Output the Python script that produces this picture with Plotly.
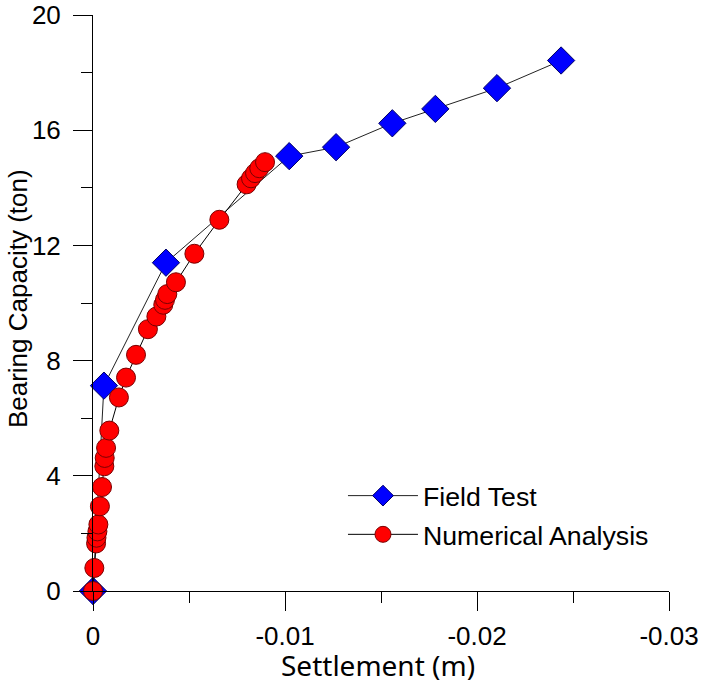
import plotly.graph_objects as go

# Field test (blue diamonds)
field_settlement = [0.0, -0.00057, -0.0038, -0.01022, -0.01266, -0.01559, -0.01783, -0.02104, -0.02438]
field_capacity = [0.0, 7.13, 11.40, 15.10, 15.41, 16.24, 16.74, 17.46, 18.42]

# Numerical analysis (red circles)
num_settlement = [0.0, -0.00007, -0.00016, -0.00018, -0.00023, -0.00028, -0.00036, -0.00047,
                  -0.00059, -0.00061, -0.00068, -0.00085, -0.00135, -0.00172, -0.00224,
                  -0.00286, -0.0033, -0.00366, -0.00375, -0.00387, -0.00432, -0.00528,
                  -0.00658, -0.0080, -0.00823, -0.00844, -0.00866, -0.00896]
num_capacity = [0.0, 0.80, 1.65, 1.85, 2.07, 2.31, 2.94, 3.61,
                4.33, 4.62, 4.97, 5.57, 6.72, 7.41, 8.20,
                9.09, 9.53, 9.94, 10.11, 10.31, 10.72, 11.71,
                12.89, 14.12, 14.33, 14.51, 14.68, 14.89]

x_tickvals = [0, -0.01, -0.02, -0.03]
x_ticktext = ["0", "-0.01", "-0.02", "-0.03"]
y_tickvals = [0, 4, 8, 12, 16, 20]
y_ticktext = ["0", "4", "8", "12", "16", "20"]
x_title = "Settlement (m)"
y_title = "Bearing Capacity (ton)"

fig = go.Figure()
fig.add_trace(go.Scatter(
    x=field_settlement, y=field_capacity, mode="lines+markers", name="Field Test",
    legendgroup="a",
    line=dict(color="#222222", width=1),
    marker=dict(symbol="diamond", size=21, color="#0000FF", line=dict(color="#000066", width=1)),
    cliponaxis=False,
))
fig.add_trace(go.Scatter(
    x=num_settlement, y=num_capacity, mode="lines+markers", name="Numerical Analysis",
    legendgroup="b",
    line=dict(color="#000000", width=1),
    marker=dict(symbol="circle", size=19, color="#FF0000", line=dict(color="#7a0000", width=1)),
    cliponaxis=False,
))

fig.update_layout(
    width=701, height=681,
    margin=dict(l=93, r=32, t=15, b=89.5),
    plot_bgcolor="white", paper_bgcolor="white",
    font=dict(family="Liberation Sans, Arial", size=26, color="black"),
    showlegend=True,
    legend=dict(x=0.434, y=0.207, xanchor="left", yanchor="top",
                bgcolor="rgba(0,0,0,0)", font=dict(size=26.7),
                itemwidth=70, traceorder="grouped", tracegroupgap=1),
    annotations=[
        dict(text=x_title, xref="paper", yref="paper", x=0.494, y=-0.1293,
             xanchor="center", yanchor="middle", showarrow=False,
             font=dict(family="Noto Sans", size=28)),
        dict(text=y_title, xref="paper", yref="paper", x=-0.130, y=0.507,
             xanchor="center", yanchor="middle", showarrow=False, textangle=-90,
             font=dict(size=26)),
    ],
)
fig.update_xaxes(
    range=[0, -0.03], tickmode="array", tickvals=x_tickvals, ticktext=x_ticktext,
    showline=True, linecolor="black", linewidth=1, showgrid=False, zeroline=False,
    ticks="outside", ticklen=19, tickwidth=1, tickcolor="black", ticklabelstandoff=3,
    ticklabeloverflow="allow",
    minor=dict(tickmode="array", tickvals=[-0.005, -0.015, -0.025], ticks="outside",
               ticklen=11, tickcolor="black", tickwidth=1),
    tickfont=dict(size=26), automargin=False,
)
fig.update_yaxes(
    range=[0, 20], tickmode="array", tickvals=y_tickvals, ticktext=y_ticktext,
    showline=True, linecolor="black", linewidth=1, showgrid=False, zeroline=False,
    ticks="outside", ticklen=19, tickwidth=1, tickcolor="black", ticklabelstandoff=7,
    ticklabeloverflow="allow",
    minor=dict(tickmode="array", tickvals=[2, 6, 10, 14, 18], ticks="outside",
               ticklen=11, tickcolor="black", tickwidth=1),
    tickfont=dict(size=26), automargin=False,
)

fig.write_html("out.html", config={"displayModeBar": False},
               post_script="document.body.style.margin='0';")
